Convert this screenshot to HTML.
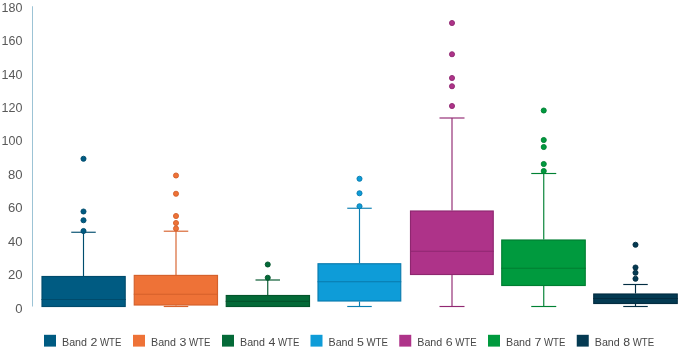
<!DOCTYPE html>
<html><head><meta charset="utf-8"><title>Band WTE box plot</title>
<style>
html,body{margin:0;padding:0;background:#fff;}
body{width:680px;height:349px;overflow:hidden;font-family:"Liberation Sans",sans-serif;}
svg{display:block;}
.yl{font-family:"Liberation Sans",sans-serif;font-size:13.1px;fill:#595959;text-anchor:end;}
.lg{font-family:"Liberation Sans",sans-serif;font-size:11.3px;fill:#474747;}
</style></head><body>
<svg width="680" height="349" viewBox="0 0 680 349">
<rect width="680" height="349" fill="#fff"/>
<line x1="32.5" y1="6.25" x2="32.5" y2="306.5" stroke="#9cc3d5" stroke-width="1"/>
<text class="yl" x="22.5" y="312.65">0</text>
<text class="yl" x="22.5" y="279.21">20</text>
<text class="yl" x="22.5" y="245.77">40</text>
<text class="yl" x="22.5" y="212.33">60</text>
<text class="yl" x="22.5" y="178.89">80</text>
<text class="yl" x="22.5" y="145.45" textLength="20.9" lengthAdjust="spacingAndGlyphs">100</text>
<text class="yl" x="22.5" y="112.01" textLength="20.9" lengthAdjust="spacingAndGlyphs">120</text>
<text class="yl" x="22.5" y="78.57" textLength="20.9" lengthAdjust="spacingAndGlyphs">140</text>
<text class="yl" x="22.5" y="45.13" textLength="20.9" lengthAdjust="spacingAndGlyphs">160</text>
<text class="yl" x="22.5" y="11.69" textLength="20.9" lengthAdjust="spacingAndGlyphs">180</text>
<g stroke="#004d6e" stroke-width="1.15" fill="#005b82">
<line x1="83.50" y1="232.25" x2="83.50" y2="276.00"/>
<line x1="71.25" y1="232.25" x2="95.75" y2="232.25"/>
<rect x="42.00" y="276.50" width="83.20" height="30.00" stroke="#004b6c"/>
<line x1="41.50" y1="299.50" x2="125.70" y2="299.50" stroke="#004b6c"/>
<circle cx="83.50" cy="158.75" r="2.55" stroke="#004b6c" stroke-width="0.9"/>
<circle cx="83.50" cy="211.50" r="2.55" stroke="#004b6c" stroke-width="0.9"/>
<circle cx="83.50" cy="220.25" r="2.55" stroke="#004b6c" stroke-width="0.9"/>
<circle cx="83.50" cy="231.00" r="2.55" stroke="#004b6c" stroke-width="0.9"/>
</g>
<g stroke="#d7622c" stroke-width="1.15" fill="#ee7237">
<line x1="176.00" y1="231.20" x2="176.00" y2="274.90"/>
<line x1="163.75" y1="231.20" x2="188.25" y2="231.20"/>
<line x1="176.00" y1="305.50" x2="176.00" y2="306.50"/>
<line x1="163.75" y1="306.50" x2="188.25" y2="306.50"/>
<rect x="134.25" y="275.40" width="83.25" height="29.60" stroke="#d4602b"/>
<line x1="133.75" y1="294.25" x2="218.00" y2="294.25" stroke="#d4602b"/>
<circle cx="176.00" cy="175.50" r="2.55" stroke="#d4602b" stroke-width="0.9"/>
<circle cx="176.00" cy="193.75" r="2.55" stroke="#d4602b" stroke-width="0.9"/>
<circle cx="176.00" cy="216.00" r="2.55" stroke="#d4602b" stroke-width="0.9"/>
<circle cx="176.00" cy="223.00" r="2.55" stroke="#d4602b" stroke-width="0.9"/>
<circle cx="176.00" cy="228.50" r="2.55" stroke="#d4602b" stroke-width="0.9"/>
</g>
<g stroke="#03572d" stroke-width="1.15" fill="#046a38">
<line x1="267.75" y1="280.00" x2="267.75" y2="295.00"/>
<line x1="255.50" y1="280.00" x2="280.00" y2="280.00"/>
<rect x="226.25" y="295.50" width="83.25" height="11.00" stroke="#03552c"/>
<line x1="225.75" y1="301.40" x2="310.00" y2="301.40" stroke="#03552c"/>
<circle cx="267.75" cy="264.50" r="2.55" stroke="#03552c" stroke-width="0.9"/>
<circle cx="267.75" cy="277.75" r="2.55" stroke="#03552c" stroke-width="0.9"/>
</g>
<g stroke="#0a7db1" stroke-width="1.15" fill="#0e9cd8">
<line x1="359.50" y1="208.25" x2="359.50" y2="263.25"/>
<line x1="347.25" y1="208.25" x2="371.75" y2="208.25"/>
<line x1="359.50" y1="301.50" x2="359.50" y2="306.50"/>
<line x1="347.25" y1="306.50" x2="371.75" y2="306.50"/>
<rect x="318.00" y="263.75" width="82.75" height="37.25" stroke="#0a7aad"/>
<line x1="317.50" y1="281.70" x2="401.25" y2="281.70" stroke="#0a7aad"/>
<circle cx="359.50" cy="178.75" r="2.55" stroke="#0a7aad" stroke-width="0.9"/>
<circle cx="359.50" cy="193.25" r="2.55" stroke="#0a7aad" stroke-width="0.9"/>
<circle cx="359.50" cy="206.25" r="2.55" stroke="#0a7aad" stroke-width="0.9"/>
</g>
<g stroke="#912872" stroke-width="1.15" fill="#ae3389">
<line x1="452.00" y1="118.00" x2="452.00" y2="210.50"/>
<line x1="439.50" y1="118.00" x2="464.50" y2="118.00"/>
<line x1="452.00" y1="275.00" x2="452.00" y2="306.50"/>
<line x1="439.50" y1="306.50" x2="464.50" y2="306.50"/>
<rect x="410.50" y="211.00" width="82.75" height="63.50" stroke="#8e2770"/>
<line x1="410.00" y1="251.25" x2="493.75" y2="251.25" stroke="#8e2770"/>
<circle cx="452.00" cy="23.00" r="2.55" stroke="#8e2770" stroke-width="0.9"/>
<circle cx="452.00" cy="54.25" r="2.55" stroke="#8e2770" stroke-width="0.9"/>
<circle cx="452.00" cy="78.00" r="2.55" stroke="#8e2770" stroke-width="0.9"/>
<circle cx="452.00" cy="86.25" r="2.55" stroke="#8e2770" stroke-width="0.9"/>
<circle cx="452.00" cy="106.00" r="2.55" stroke="#8e2770" stroke-width="0.9"/>
</g>
<g stroke="#008133" stroke-width="1.15" fill="#009a3e">
<line x1="543.75" y1="173.50" x2="543.75" y2="239.50"/>
<line x1="531.25" y1="173.50" x2="556.25" y2="173.50"/>
<line x1="543.75" y1="286.00" x2="543.75" y2="306.50"/>
<line x1="531.25" y1="306.50" x2="556.25" y2="306.50"/>
<rect x="501.75" y="240.00" width="83.50" height="45.50" stroke="#007e32"/>
<line x1="501.25" y1="268.25" x2="585.75" y2="268.25" stroke="#007e32"/>
<circle cx="543.75" cy="110.50" r="2.55" stroke="#007e32" stroke-width="0.9"/>
<circle cx="543.75" cy="140.00" r="2.55" stroke="#007e32" stroke-width="0.9"/>
<circle cx="543.75" cy="147.00" r="2.55" stroke="#007e32" stroke-width="0.9"/>
<circle cx="543.75" cy="164.00" r="2.55" stroke="#007e32" stroke-width="0.9"/>
<circle cx="543.75" cy="171.00" r="2.55" stroke="#007e32" stroke-width="0.9"/>
</g>
<g stroke="#032d42" stroke-width="1.15" fill="#043a52">
<line x1="635.50" y1="284.50" x2="635.50" y2="293.50"/>
<line x1="623.25" y1="284.50" x2="647.75" y2="284.50"/>
<line x1="635.50" y1="304.00" x2="635.50" y2="306.50"/>
<line x1="623.25" y1="306.50" x2="647.75" y2="306.50"/>
<rect x="593.75" y="294.00" width="83.50" height="9.50" stroke="#032c40"/>
<line x1="593.25" y1="298.50" x2="677.75" y2="298.50" stroke="#032c40"/>
<circle cx="635.50" cy="244.75" r="2.55" stroke="#032c40" stroke-width="0.9"/>
<circle cx="635.50" cy="267.50" r="2.55" stroke="#032c40" stroke-width="0.9"/>
<circle cx="635.50" cy="272.75" r="2.55" stroke="#032c40" stroke-width="0.9"/>
<circle cx="635.50" cy="278.75" r="2.55" stroke="#032c40" stroke-width="0.9"/>
</g>
<rect x="44.00" y="334.8" width="12" height="11.8" fill="#005b82"/>
<text class="lg" y="345.5"><tspan x="62.00" textLength="25" lengthAdjust="spacingAndGlyphs">Band</tspan><tspan x="90.60" textLength="6.9" lengthAdjust="spacingAndGlyphs">2</tspan><tspan x="100.00" textLength="21.4" lengthAdjust="spacingAndGlyphs">WTE</tspan></text>
<rect x="133.00" y="334.8" width="12" height="11.8" fill="#ee7237"/>
<text class="lg" y="345.5"><tspan x="151.00" textLength="25" lengthAdjust="spacingAndGlyphs">Band</tspan><tspan x="179.60" textLength="6.9" lengthAdjust="spacingAndGlyphs">3</tspan><tspan x="189.00" textLength="21.4" lengthAdjust="spacingAndGlyphs">WTE</tspan></text>
<rect x="222.00" y="334.8" width="12" height="11.8" fill="#046a38"/>
<text class="lg" y="345.5"><tspan x="240.00" textLength="25" lengthAdjust="spacingAndGlyphs">Band</tspan><tspan x="268.60" textLength="6.9" lengthAdjust="spacingAndGlyphs">4</tspan><tspan x="278.00" textLength="21.4" lengthAdjust="spacingAndGlyphs">WTE</tspan></text>
<rect x="310.50" y="334.8" width="12" height="11.8" fill="#0e9cd8"/>
<text class="lg" y="345.5"><tspan x="328.50" textLength="25" lengthAdjust="spacingAndGlyphs">Band</tspan><tspan x="357.10" textLength="6.9" lengthAdjust="spacingAndGlyphs">5</tspan><tspan x="366.50" textLength="21.4" lengthAdjust="spacingAndGlyphs">WTE</tspan></text>
<rect x="399.25" y="334.8" width="12" height="11.8" fill="#ae3389"/>
<text class="lg" y="345.5"><tspan x="417.25" textLength="25" lengthAdjust="spacingAndGlyphs">Band</tspan><tspan x="445.85" textLength="6.9" lengthAdjust="spacingAndGlyphs">6</tspan><tspan x="455.25" textLength="21.4" lengthAdjust="spacingAndGlyphs">WTE</tspan></text>
<rect x="488.00" y="334.8" width="12" height="11.8" fill="#009a3e"/>
<text class="lg" y="345.5"><tspan x="506.00" textLength="25" lengthAdjust="spacingAndGlyphs">Band</tspan><tspan x="534.60" textLength="6.9" lengthAdjust="spacingAndGlyphs">7</tspan><tspan x="544.00" textLength="21.4" lengthAdjust="spacingAndGlyphs">WTE</tspan></text>
<rect x="576.75" y="334.8" width="12" height="11.8" fill="#043a52"/>
<text class="lg" y="345.5"><tspan x="594.75" textLength="25" lengthAdjust="spacingAndGlyphs">Band</tspan><tspan x="623.35" textLength="6.9" lengthAdjust="spacingAndGlyphs">8</tspan><tspan x="632.75" textLength="21.4" lengthAdjust="spacingAndGlyphs">WTE</tspan></text>
</svg></body></html>
